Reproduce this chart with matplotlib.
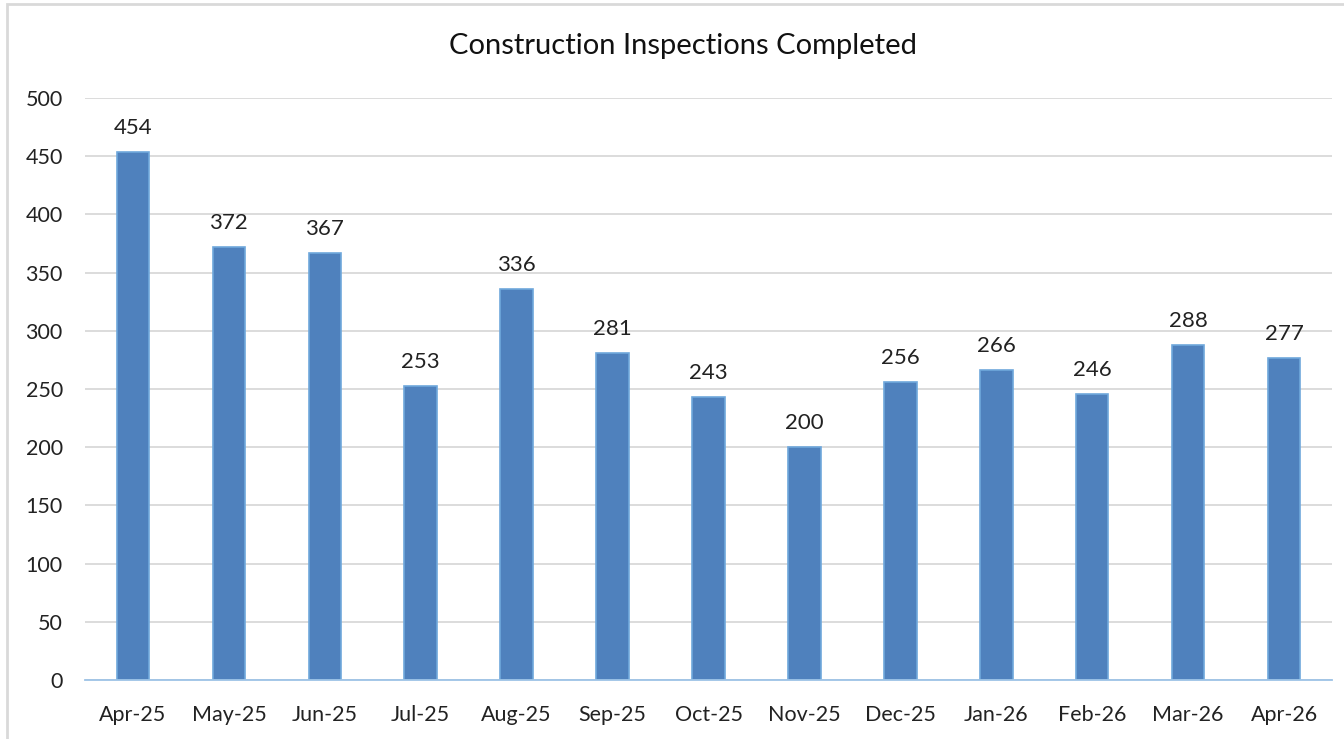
import matplotlib.pyplot as plt
from matplotlib.patches import Rectangle

months = ['Apr-25', 'May-25', 'Jun-25', 'Jul-25', 'Aug-25', 'Sep-25', 'Oct-25',
          'Nov-25', 'Dec-25', 'Jan-26', 'Feb-26', 'Mar-26', 'Apr-26']
inspections = [454, 372, 367, 253, 336, 281, 243, 200, 256, 266, 246, 288, 277]
y_ticks = [0, 50, 100, 150, 200, 250, 300, 350, 400, 450, 500]

plt.rcParams['font.family'] = ['Lato', 'DejaVu Sans']

fig = plt.figure(figsize=(13.44, 7.39), dpi=100)
ax = fig.add_axes([85 / 1344, 1 - 680 / 739, (1332 - 85) / 1344, (680 - 98) / 739])

x = range(len(months))
ax.bar(x, inspections, width=0.34, color='#4F81BD', edgecolor='#6FA8DC',
       linewidth=1.2, zorder=3)

for i, v in enumerate(inspections):
    ax.text(i, v + 12, str(v), ha='center', va='bottom', fontsize=16, color='#222222')

ax.set_xlim(-0.5, len(months) - 0.5)
ax.set_ylim(0, 500)
ax.set_yticks(y_ticks)
ax.set_xticks(list(x))
ax.set_xticklabels(months)
ax.tick_params(axis='both', length=0, labelsize=15.5, colors='#222222')
ax.tick_params(axis='x', pad=18)
ax.tick_params(axis='y', pad=16)
ax.grid(axis='y', color='#D9D9D9', linewidth=1.3, zorder=0)
for s in ['top', 'right', 'left']:
    ax.spines[s].set_visible(False)
ax.spines['bottom'].set_color('#9DC3E6')
ax.spines['bottom'].set_linewidth(1.3)
ax.spines['bottom'].set_zorder(4)

fig.text(683 / 1344, 1 - 46 / 739, 'Construction Inspections Completed',
         ha='center', va='center', fontsize=21, color='#111111')

# light gray frame around the chart
fig.patches.append(Rectangle((7 / 1344, -0.1), 1.2, 1 - 4 / 739 + 0.1,
                             transform=fig.transFigure, fill=False,
                             edgecolor='#D9D9D9', linewidth=2))

fig.savefig('out.png', dpi=100)
